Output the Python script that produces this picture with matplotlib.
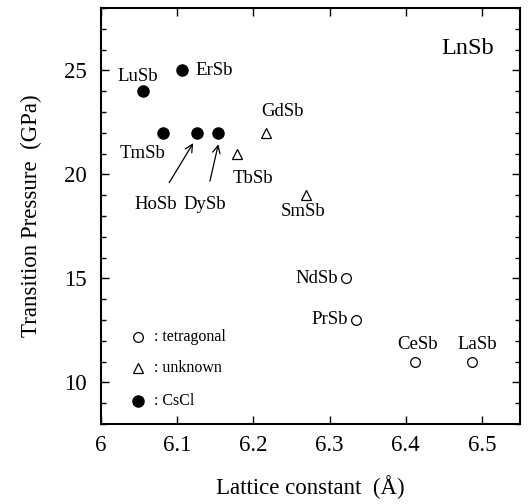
import matplotlib
matplotlib.use("Agg")
import matplotlib.pyplot as plt
from matplotlib.ticker import MultipleLocator

plt.rcParams['font.family'] = ['Liberation Serif', 'DejaVu Serif']

# data: lattice constant (A), transition pressure (GPa)
tet_names = ['NdSb', 'PrSb', 'CeSb', 'LaSb']
tet_a = [6.321, 6.335, 6.412, 6.487]
tet_p = [15, 13, 11, 11]

unk_names = ['GdSb', 'TbSb', 'SmSb']
unk_a = [6.216, 6.179, 6.269]
unk_p = [22, 21, 19]

cscl_names = ['LuSb', 'ErSb', 'TmSb', 'HoSb', 'DySb']
cscl_a = [6.055, 6.106, 6.082, 6.126, 6.153]
cscl_p = [24, 25, 22, 22, 22]

legend_labels = [': tetragonal', ': unknown', ': CsCl']

fig = plt.figure(figsize=(5.29, 5.04), dpi=100)
ax = fig.add_axes([101/529, 1 - 424/504, (520-101)/529, (424-8)/504])

ax.plot(tet_a, tet_p, 'o', mfc='white', mec='black', ms=7, mew=0.9)
ax.plot(unk_a, unk_p, '^', mfc='white', mec='black', ms=7.5, mew=0.9)
ax.plot(cscl_a, cscl_p, 'o', mfc='black', mec='black', ms=8)

# point labels
fs = 13.5
ax.text(6.048, 24.7, 'LuSb', fontsize=fs, ha='center', va='center')
ax.text(6.124, 25.0, 'ErSb', fontsize=fs, ha='left', va='center')
ax.text(6.054, 21.0, 'TmSb', fontsize=fs, ha='center', va='center')
ax.annotate('HoSb', xy=(6.121, 21.5), xytext=(6.072, 18.55), fontsize=fs,
            ha='center', va='center',
            arrowprops=dict(arrowstyle='->', lw=0.9, color='black',
                            shrinkA=9, shrinkB=0))
ax.annotate('DySb', xy=(6.154, 21.45), xytext=(6.136, 18.55), fontsize=fs,
            ha='center', va='center',
            arrowprops=dict(arrowstyle='->', lw=0.9, color='black',
                            shrinkA=9, shrinkB=0))
ax.text(6.238, 23.0, 'GdSb', fontsize=fs, ha='center', va='center')
ax.text(6.2, 19.8, 'TbSb', fontsize=fs, ha='center', va='center')
ax.text(6.265, 18.2, 'SmSb', fontsize=fs, ha='center', va='center')
ax.text(6.311, 15.0, 'NdSb', fontsize=fs, ha='right', va='center')
ax.text(6.324, 13.0, 'PrSb', fontsize=fs, ha='right', va='center')
ax.text(6.416, 11.8, 'CeSb', fontsize=fs, ha='center', va='center')
ax.text(6.494, 11.8, 'LaSb', fontsize=fs, ha='center', va='center')
ax.text(6.481, 26.05, 'LnSb', fontsize=17.5, ha='center', va='center')

# hand-made legend
leg_a = 6.048
leg_p = [12.16, 10.67, 9.09]
ax.plot([leg_a], [leg_p[0]], 'o', mfc='white', mec='black', ms=7, mew=0.9)
ax.plot([leg_a], [leg_p[1]], '^', mfc='white', mec='black', ms=7.5, mew=0.9)
ax.plot([leg_a], [leg_p[2]], 'o', mfc='black', mec='black', ms=8)
for p, lab in zip(leg_p, legend_labels):
    ax.text(6.07, p, lab, fontsize=11.5, ha='left', va='center')

ax.set_xlim(6, 6.55)
ax.set_ylim(8, 28)
ax.yaxis.set_major_locator(MultipleLocator(5))
ax.yaxis.set_minor_locator(MultipleLocator(1))
ax.set_xticks([6, 6.1, 6.2, 6.3, 6.4, 6.5])
ax.set_xticklabels(['6', '6.1', '6.2', '6.3', '6.4', '6.5'])
ax.tick_params(which='both', direction='in', top=True, right=True, labelsize=16.5)
ax.tick_params(which='major', length=6, width=1)
ax.tick_params(which='minor', length=3.5, width=1)
ax.tick_params(axis='x', pad=8)
ax.tick_params(axis='y', pad=10)
for s in ax.spines.values():
    s.set_linewidth(1.5)

ax.set_xlabel('Lattice constant  (Å)', fontsize=16.5, labelpad=14)
ax.set_ylabel('Transition Pressure  (GPa)', fontsize=16.5, labelpad=16)

fig.savefig('out.png', dpi=100)
